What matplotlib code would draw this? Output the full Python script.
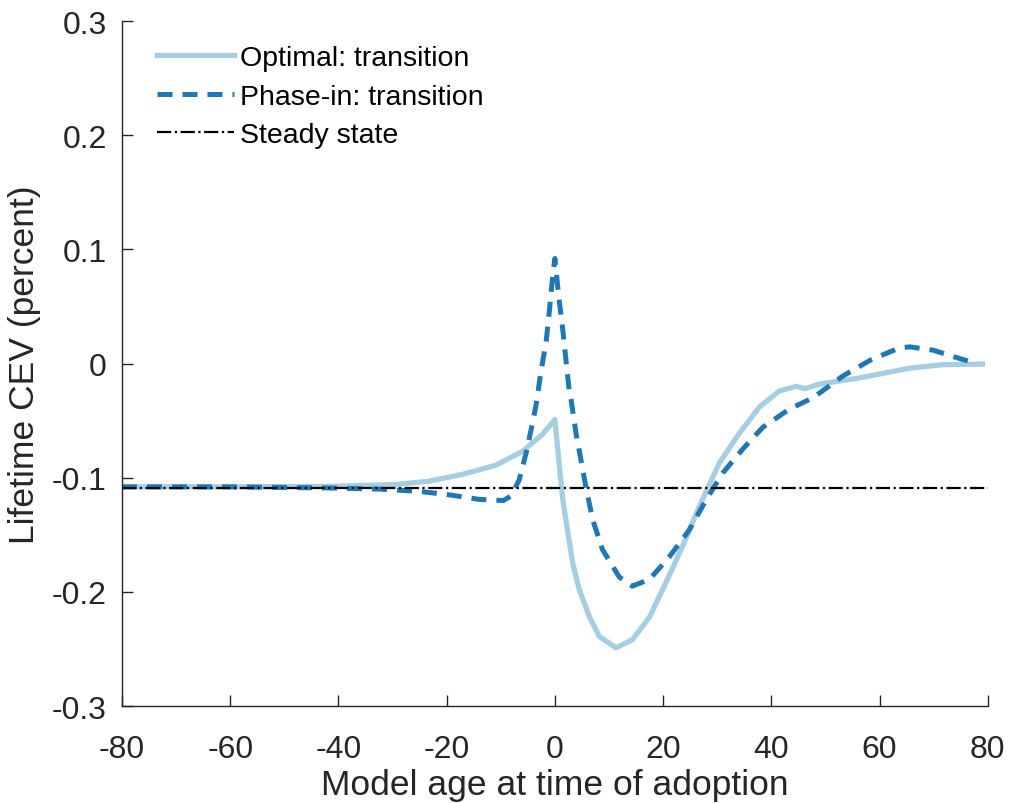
import numpy as np
import matplotlib.pyplot as plt

plt.rcParams['font.family'] = ['Liberation Sans', 'DejaVu Sans']

# Optimal policy, transition path
opt_age = [-80, -60, -41.7, -29.4, -23.2, -17, -10.9, -6, -2.3, 0,
           0.83, 1.45, 2.4, 3.3, 4.5, 6.4, 8.2, 11.3, 14.3, 17.5, 20.5, 23.6, 26.7,
           30.4, 34.1, 37.8, 41.5, 44.6, 46.2, 48.9, 56.3, 65.6, 71.7, 79]
opt_cev = [-0.108, -0.108, -0.1076, -0.106, -0.103, -0.097, -0.089, -0.077, -0.062, -0.049,
           -0.090, -0.119, -0.148, -0.175, -0.198, -0.222, -0.239, -0.249, -0.242, -0.222,
           -0.192, -0.160, -0.125,
           -0.087, -0.061, -0.038, -0.024, -0.020, -0.022, -0.018, -0.0126, -0.004, -0.001,
           -0.0005]

# Phase-in policy, transition path
ph_age = [-80, -60, -41.7, -32.5, -25, -19.5, -14, -9.5, -8.1, -6.6, -5.3, -4.4, -3.5,
          -2.6, -1.6, -1.0, -0.4, 0.0, 0.7, 1.45, 2.1, 2.7, 3.0, 3.9, 4.8, 5.8, 7.0, 8.8,
          11.9, 14.3, 17.5, 21.2, 24.8, 28, 31, 34.7, 38.4, 43.3, 47.7, 53.2, 58.5,
          63.7, 65.6, 69.9, 75.4, 77]
ph_cev = [-0.108, -0.108, -0.109, -0.110, -0.112, -0.115, -0.119, -0.120, -0.116, -0.102,
          -0.078, -0.058, -0.037, -0.008, 0.020, 0.047, 0.077, 0.092, 0.059, 0.030,
          0.0006, -0.026, -0.032, -0.061, -0.084, -0.110, -0.137, -0.163,
          -0.187, -0.195, -0.189, -0.169, -0.146, -0.119, -0.096, -0.075, -0.056, -0.040,
          -0.030, -0.011, 0.0035, 0.0137, 0.0146, 0.0117, 0.0035, 0.0015]

steady_cev = -0.109

fig = plt.figure(figsize=(10.1, 8.04), dpi=100)
ax = fig.add_axes([0.1208, 0.1206, 0.8572, 0.852])

ax.plot(opt_age, opt_cev, color='#a6cee3', lw=3.8, label='Optimal: transition')
ax.plot(ph_age, ph_cev, color='#1f78b4', lw=3.6, linestyle=(0, (3, 2)),
        label='Phase-in: transition')
ax.plot([-80, 80], [steady_cev, steady_cev], color='black', lw=1.6, linestyle='-.',
        label='Steady state')

ax.set_xlim(-80, 80)
ax.set_ylim(-0.3, 0.3)
ax.set_xticks(np.arange(-80, 81, 20))
ax.set_yticks(np.arange(-0.3, 0.31, 0.1))
ax.set_yticklabels(['-0.3', '-0.2', '-0.1', '0', '0.1', '0.2', '0.3'])
ax.set_xticklabels([str(v) for v in range(-80, 81, 20)])

for s in ['top', 'right']:
    ax.spines[s].set_visible(False)
for s in ['left', 'bottom']:
    ax.spines[s].set_color('#262626')
    ax.spines[s].set_linewidth(1.0)
ax.tick_params(direction='in', length=8, width=1.0, colors='#262626', labelsize=23)
ax.tick_params(axis='x', pad=20)
ax.tick_params(axis='y', pad=11)

ax.set_xlabel('Model age at time of adoption', fontsize=25.5, color='#262626', labelpad=3)
ax.set_ylabel('Lifetime CEV (percent)', fontsize=25.5, color='#262626', labelpad=8)

ax.legend(loc='upper left', frameon=False, fontsize=20.5, handlelength=2.7,
          handletextpad=0.2, labelspacing=0.43, bbox_to_anchor=(0.011, 1.002))

fig.savefig('out.png', dpi=100)
